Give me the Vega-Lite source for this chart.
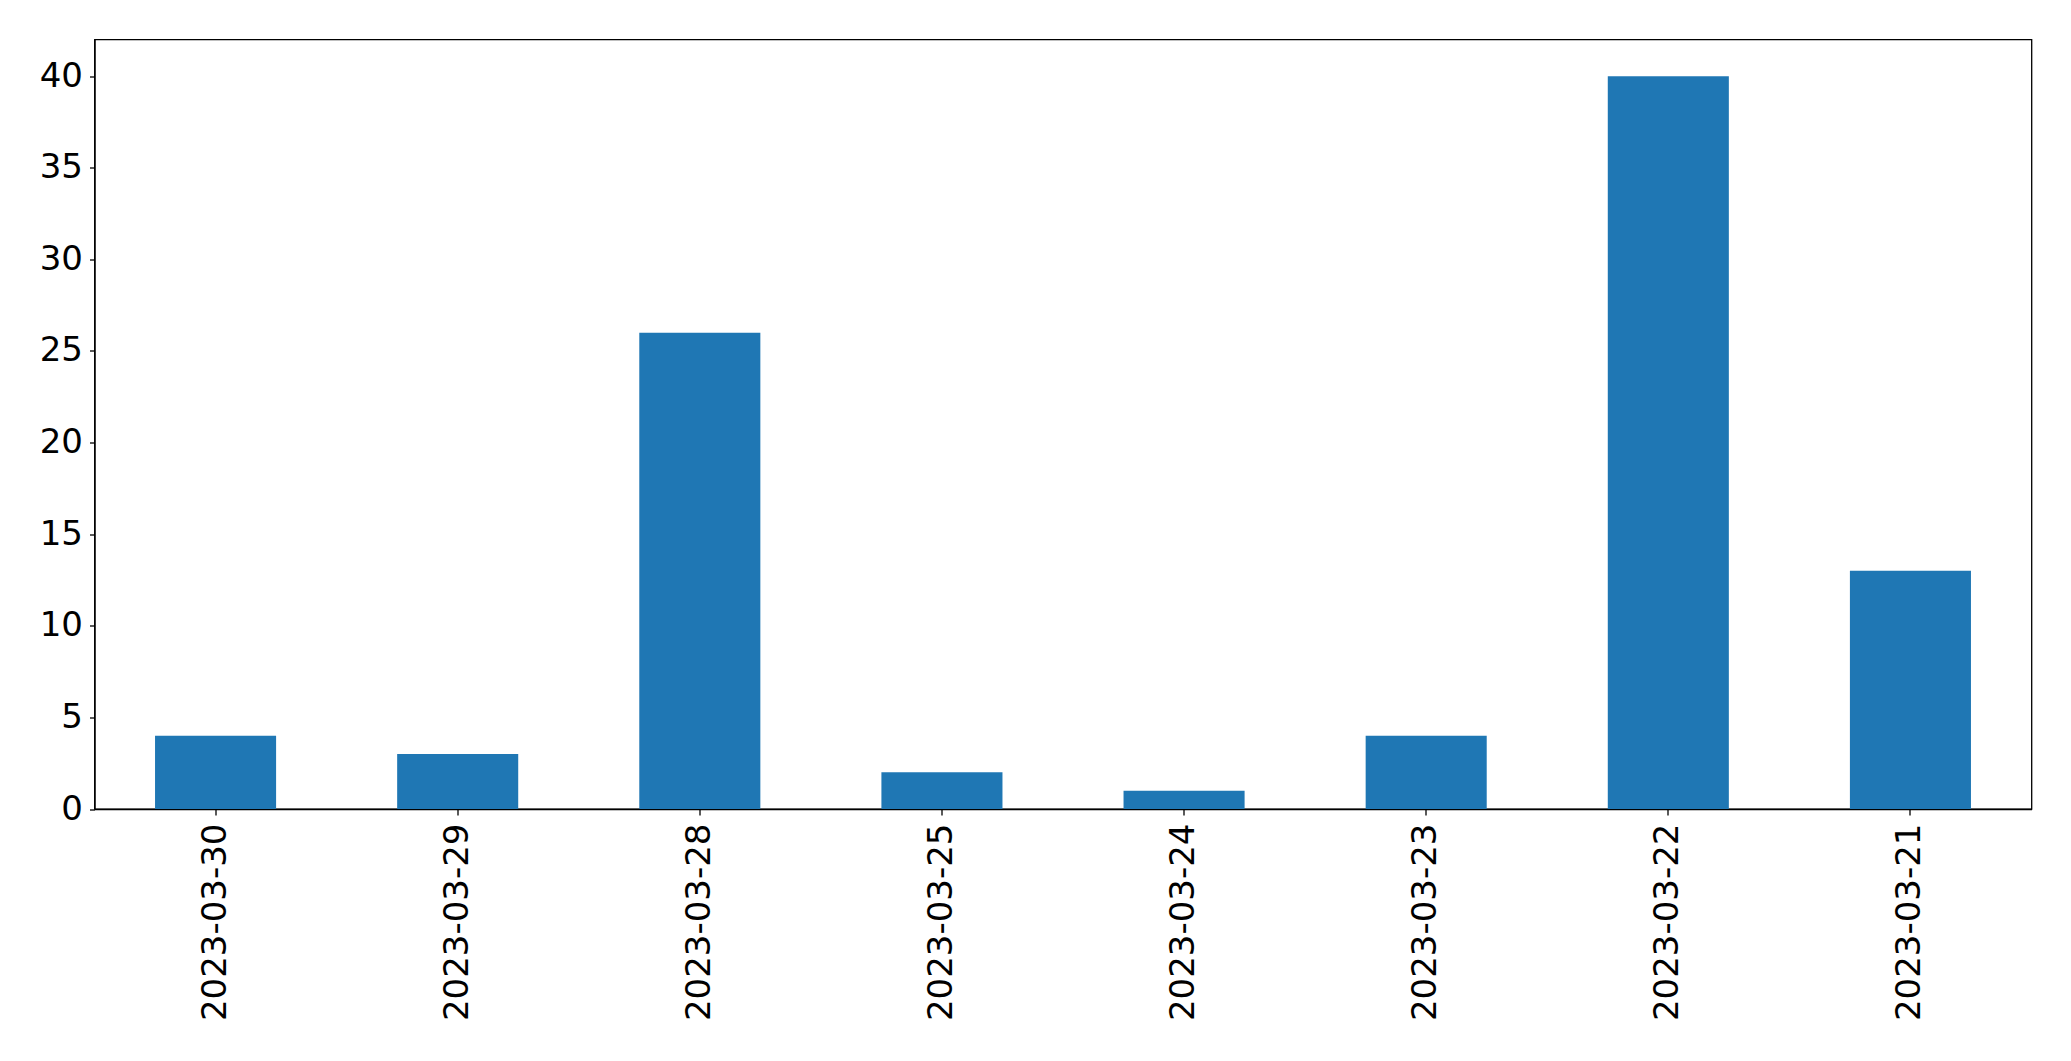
{
  "$schema": "https://vega.github.io/schema/vega-lite/v6.json",
  "autosize": {"type": "none"},
  "padding": {"left": 94.5, "top": 39.5, "right": 39.5, "bottom": 252},
  "width": 1937,
  "height": 769.5,
  "background": "white",
  "data": {
    "values": [
      {"date": "2023-03-30", "count": 4},
      {"date": "2023-03-29", "count": 3},
      {"date": "2023-03-28", "count": 26},
      {"date": "2023-03-25", "count": 2},
      {"date": "2023-03-24", "count": 1},
      {"date": "2023-03-23", "count": 4},
      {"date": "2023-03-22", "count": 40},
      {"date": "2023-03-21", "count": 13}
    ]
  },
  "mark": {"type": "bar", "color": "#1f77b4"},
  "encoding": {
    "x": {
      "field": "date",
      "type": "nominal",
      "sort": null,
      "scale": {"paddingInner": 0.5, "paddingOuter": 0.25},
      "axis": {
        "title": null,
        "labelAngle": -90,
        "labelFont": "DejaVu Sans",
        "labelFontSize": 34,
        "labelColor": "black",
        "labelPadding": 8,
        "labelLimit": 0,
        "labelOverlap": false,
        "tickSize": 6,
        "tickColor": "black",
        "tickWidth": 1.3,
        "domainColor": "black",
        "domainWidth": 1.3,
        "grid": false
      }
    },
    "y": {
      "field": "count",
      "type": "quantitative",
      "scale": {"domain": [0, 42], "nice": false, "zero": true},
      "axis": {
        "title": null,
        "values": [0, 5, 10, 15, 20, 25, 30, 35, 40],
        "labelFont": "DejaVu Sans",
        "labelFontSize": 34,
        "labelColor": "black",
        "labelPadding": 7,
        "labelLimit": 0,
        "tickSize": 5,
        "tickColor": "black",
        "tickWidth": 1.3,
        "domainColor": "black",
        "domainWidth": 1.3,
        "grid": false
      }
    }
  },
  "config": {
    "view": {"stroke": "black", "strokeWidth": 1.3}
  }
}
